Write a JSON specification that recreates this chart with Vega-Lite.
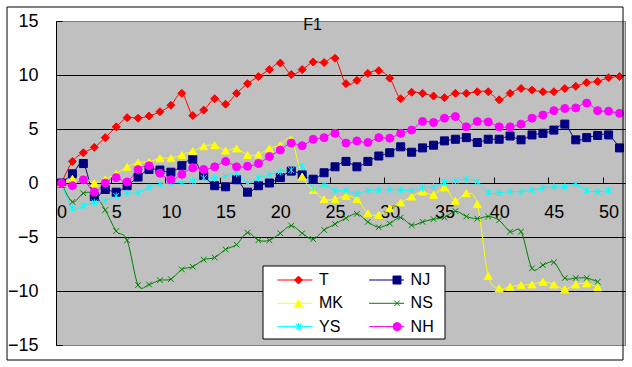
{
  "$schema": "https://vega.github.io/schema/vega-lite/v6.json",
  "width": 569,
  "height": 324,
  "autosize": "none",
  "padding": {"left": 56, "top": 21, "right": 7, "bottom": 22},
  "background": "white",
  "config": {
    "view": {"fill": "#C0C0C0", "stroke": "#808080", "strokeWidth": 1},
    "font": "Liberation Sans"
  },
  "title": {"text": "F1", "orient": "top", "anchor": "middle", "dx": -28, "dy": 25, "offset": -14, "baseline": "alphabetic", "fontSize": 16, "fontWeight": "normal", "font": "Liberation Sans", "color": "black"},
  "data": {
    "values": [
      {"x": 0, "T": 0, "NJ": 0, "MK": 0, "NS": 0, "YS": 0, "NH": 0},
      {"x": 1, "T": 2.0, "NJ": 0.85, "MK": 0.4, "NS": -1.75, "YS": -2.35, "NH": -0.25},
      {"x": 2, "T": 2.8, "NJ": 1.8, "MK": 0.5, "NS": -0.95, "YS": -2.1, "NH": 0.3},
      {"x": 3, "T": 3.3, "NJ": -1.25, "MK": 0, "NS": -1.05, "YS": -1.8, "NH": -0.85},
      {"x": 4, "T": 4.2, "NJ": -0.6, "MK": 0.35, "NS": -2.5, "YS": -1.65, "NH": 0},
      {"x": 5, "T": 5.2, "NJ": -0.85, "MK": 0.85, "NS": -4.45, "YS": -1.2, "NH": 0.5},
      {"x": 6, "T": 6.05, "NJ": -0.25, "MK": 1.5, "NS": -5.3, "YS": -0.95, "NH": 0.1},
      {"x": 7, "T": 6.0, "NJ": 0.55, "MK": 1.9, "NS": -9.45, "YS": -0.9, "NH": 1.25},
      {"x": 8, "T": 6.2, "NJ": 1.25, "MK": 1.95, "NS": -9.4, "YS": -0.4, "NH": 1.6},
      {"x": 9, "T": 6.6, "NJ": 1.2, "MK": 2.3, "NS": -9.0, "YS": -0.1, "NH": 0.9},
      {"x": 10, "T": 7.2, "NJ": 1.0, "MK": 2.3, "NS": -8.9, "YS": 0, "NH": 0.3},
      {"x": 11, "T": 8.3, "NJ": 1.6, "MK": 2.6, "NS": -8.0, "YS": 0.05, "NH": 0.8},
      {"x": 12, "T": 6.25, "NJ": 2.2, "MK": 2.95, "NS": -7.75, "YS": 0.2, "NH": 1.4},
      {"x": 13, "T": 6.75, "NJ": 0.7, "MK": 3.4, "NS": -7.1, "YS": 0.45, "NH": 1.25},
      {"x": 14, "T": 7.8, "NJ": -0.25, "MK": 3.5, "NS": -6.9, "YS": 0.45, "NH": 1.5},
      {"x": 15, "T": 7.3, "NJ": -0.35, "MK": 3.0, "NS": -6.15, "YS": 0.6, "NH": 2.0},
      {"x": 16, "T": 8.3, "NJ": 0.3, "MK": 3.2, "NS": -5.7, "YS": 0.9, "NH": 1.5},
      {"x": 17, "T": 9.2, "NJ": -0.85, "MK": 2.6, "NS": -4.6, "YS": 0.05, "NH": 1.55},
      {"x": 18, "T": 9.85, "NJ": -0.25, "MK": 2.65, "NS": -5.3, "YS": 0.45, "NH": 1.8},
      {"x": 19, "T": 10.5, "NJ": 0, "MK": 3.2, "NS": -5.3, "YS": 0.75, "NH": 2.45},
      {"x": 20, "T": 11.1, "NJ": 0.5, "MK": 3.5, "NS": -4.65, "YS": 1.05, "NH": 3.05},
      {"x": 21, "T": 10.05, "NJ": 1.1, "MK": 4.05, "NS": -3.95, "YS": 1.2, "NH": 3.7},
      {"x": 22, "T": 10.5, "NJ": 0.75, "MK": 0.6, "NS": -4.65, "YS": 1.55, "NH": 3.45},
      {"x": 23, "T": 11.2, "NJ": 0.35, "MK": -0.65, "NS": -5.2, "YS": -0.5, "NH": 4.05},
      {"x": 24, "T": 11.15, "NJ": 0.95, "MK": -1.5, "NS": -4.35, "YS": -0.15, "NH": 4.2},
      {"x": 25, "T": 11.55, "NJ": 1.5, "MK": -1.5, "NS": -3.8, "YS": -0.7, "NH": 4.6},
      {"x": 26, "T": 9.2, "NJ": 2.0, "MK": -1.2, "NS": -3.25, "YS": -0.7, "NH": 3.7},
      {"x": 27, "T": 9.5, "NJ": 1.5, "MK": -1.5, "NS": -2.85, "YS": -1.0, "NH": 3.9},
      {"x": 28, "T": 10.15, "NJ": 2.0, "MK": -2.8, "NS": -3.6, "YS": -0.7, "NH": 3.75},
      {"x": 29, "T": 10.4, "NJ": 2.5, "MK": -2.95, "NS": -4.1, "YS": -0.65, "NH": 4.2},
      {"x": 30, "T": 9.7, "NJ": 2.8, "MK": -2.35, "NS": -3.75, "YS": -0.6, "NH": 4.15},
      {"x": 31, "T": 7.8, "NJ": 3.35, "MK": -1.8, "NS": -3.2, "YS": -0.65, "NH": 4.6},
      {"x": 32, "T": 8.4, "NJ": 2.85, "MK": -1.25, "NS": -3.9, "YS": -0.7, "NH": 4.9},
      {"x": 33, "T": 8.3, "NJ": 3.25, "MK": -0.8, "NS": -3.6, "YS": -0.45, "NH": 5.7},
      {"x": 34, "T": 8.05, "NJ": 3.5, "MK": -1.1, "NS": -3.35, "YS": -0.35, "NH": 5.6},
      {"x": 35, "T": 7.9, "NJ": 3.9, "MK": -0.4, "NS": -3.2, "YS": 0.05, "NH": 6.0},
      {"x": 36, "T": 8.3, "NJ": 4.05, "MK": -1.65, "NS": -2.6, "YS": 0.2, "NH": 6.15},
      {"x": 37, "T": 8.3, "NJ": 4.2, "MK": -0.95, "NS": -3.1, "YS": 0.35, "NH": 5.2},
      {"x": 38, "T": 8.45, "NJ": 3.75, "MK": -1.95, "NS": -3.3, "YS": 0.1, "NH": 5.7},
      {"x": 39, "T": 8.45, "NJ": 4.05, "MK": -8.6, "NS": -3.1, "YS": -0.9, "NH": 5.65},
      {"x": 40, "T": 7.7, "NJ": 4.05, "MK": -9.75, "NS": -3.45, "YS": -0.9, "NH": 5.2},
      {"x": 41, "T": 8.3, "NJ": 4.35, "MK": -9.6, "NS": -4.5, "YS": -0.8, "NH": 5.2},
      {"x": 42, "T": 8.75, "NJ": 4.0, "MK": -9.45, "NS": -4.5, "YS": -0.8, "NH": 5.45},
      {"x": 43, "T": 8.6, "NJ": 4.45, "MK": -9.4, "NS": -7.9, "YS": -0.65, "NH": 6.0},
      {"x": 44, "T": 8.45, "NJ": 4.6, "MK": -9.15, "NS": -7.6, "YS": -0.45, "NH": 6.3},
      {"x": 45, "T": 8.45, "NJ": 4.9, "MK": -9.4, "NS": -7.35, "YS": -0.35, "NH": 6.7},
      {"x": 46, "T": 8.75, "NJ": 5.45, "MK": -9.85, "NS": -8.8, "YS": -0.35, "NH": 6.9},
      {"x": 47, "T": 8.95, "NJ": 4.0, "MK": -9.4, "NS": -8.8, "YS": -0.1, "NH": 6.95},
      {"x": 48, "T": 9.3, "NJ": 4.2, "MK": -9.3, "NS": -8.8, "YS": -0.7, "NH": 7.4},
      {"x": 49, "T": 9.4, "NJ": 4.4, "MK": -9.65, "NS": -9.15, "YS": -0.8, "NH": 6.7},
      {"x": 50, "T": 9.75, "NJ": 4.45, "MK": null, "NS": null, "YS": -0.7, "NH": 6.65},
      {"x": 51, "T": 9.85, "NJ": 3.25, "MK": null, "NS": null, "YS": null, "NH": 6.45}
    ]
  },
  "transform": [{"fold": ["T", "NJ", "MK", "NS", "YS", "NH"], "as": ["series", "value"]}],
  "encoding": {
    "x": {
      "field": "x", "type": "quantitative",
      "scale": {"domain": [-0.5, 51.5], "nice": false, "zero": false},
      "axis": {
        "values": [0, 5, 10, 15, 20, 25, 30, 35, 40, 45, 50],
        "title": null, "grid": false, "offset": -162,
        "domainColor": "black", "domainWidth": 1,
        "tickColor": "black", "tickSize": -6, "tickOffset": -5.47, "labelOffset": 5.47,
        "labelPadding": 26, "labelFont": "Liberation Sans", "labelFontSize": 18, "labelColor": "black",
        "labelFlush": false, "labelOverlap": false
      }
    },
    "y": {
      "field": "value", "type": "quantitative",
      "scale": {"domain": [-15, 15], "nice": false},
      "axis": {
        "values": [-15, -10, -5, 0, 5, 10, 15],
        "title": null, "grid": true, "gridWidth": 1,
        "gridColor": {"condition": {"test": "abs(datum.value) == 15", "value": "#808080"}, "value": "black"},
        "domainColor": "black", "tickColor": "black", "tickSize": -6,
        "labelPadding": 24, "labelFont": "Liberation Sans", "labelFontSize": 18, "labelColor": "black",
        "labelFlush": false, "labelOverlap": false
      }
    }
  },
  "layer": [
    {
      "mark": {"type": "point", "opacity": 0},
      "encoding": {
        "color": {
          "field": "x", "type": "quantitative",
          "scale": {"range": ["#FFFFFF", "#FFFFFF"]},
          "legend": {
            "orient": "none", "legendX": 207, "legendY": 245, "direction": "horizontal", "title": null,
            "gradientLength": 182, "gradientThickness": 73, "gradientStrokeColor": "black", "gradientStrokeWidth": 1,
            "labelExpr": "''", "labelFontSize": 1, "padding": 0
          }
        }
      }
    },
    {
      "mark": {"type": "point", "opacity": 0},
      "encoding": {
        "color": {
          "field": "x", "type": "quantitative",
          "scale": {"range": ["rgba(255,255,255,0)", "rgba(255,255,255,0)"]},
          "legend": {
            "orient": "none", "legendX": -49, "legendY": -14, "direction": "horizontal", "title": null,
            "gradientLength": 616, "gradientThickness": 353, "gradientStrokeColor": "black", "gradientStrokeWidth": 1,
            "labelExpr": "''", "labelFontSize": 1, "padding": 0
          }
        }
      }
    },
    {
      "mark": {"type": "line", "interpolate": "cardinal", "strokeWidth": 1},
      "encoding": {
        "stroke": {
          "field": "series", "type": "nominal",
          "scale": {"domain": ["T", "NJ", "MK", "NS", "YS", "NH"], "range": ["#FF0000", "#000080", "#FFFF00", "#008000", "#00FFFF", "#FF00FF"]},
          "legend": {
            "orient": "none", "legendX": 221, "legendY": 251, "columns": 2, "direction": "horizontal", "title": null,
            "symbolType": "stroke", "symbolSize": 1225, "symbolStrokeWidth": 1,
            "labelFont": "Liberation Sans", "labelFontSize": 16, "labelColor": "black", "labelOffset": 6,
            "columnPadding": 25.6, "rowPadding": 7.3, "padding": 0, "clipHeight": 16
          }
        }
      }
    },
    {
      "mark": {"type": "point", "filled": true, "opacity": 1, "size": 64, "strokeWidth": 1},
      "encoding": {
        "shape": {
          "field": "series", "type": "nominal",
          "scale": {
            "domain": ["NH", "YS", "NS", "MK", "NJ", "T"],
            "range": ["circle", "M-0.75,-0.75L0.75,0.75M-0.75,0.75L0.75,-0.75M0,-0.9L0,0.9", "M-0.7,-0.7L0.7,0.7M-0.7,0.7L0.7,-0.7", "triangle-up", "square", "diamond"]
          },
          "legend": {
            "values": ["T", "NJ", "MK", "NS", "YS", "NH"],
            "orient": "none", "legendX": 234.5, "legendY": 251, "columns": 2, "direction": "horizontal", "title": null,
            "symbolSize": 64, "symbolStrokeWidth": 1, "symbolOpacity": 1,
            "symbolFillColor": {"expr": "scale('fill', datum.value)"},
            "symbolStrokeColor": {"expr": "scale('stroke', datum.value)"},
            "labelExpr": "''", "labelFontSize": 16, "labelOffset": 0,
            "columnPadding": 82.5, "rowPadding": 7.3, "padding": 0, "clipHeight": 16
          }
        },
        "fill": {
          "field": "series", "type": "nominal",
          "scale": {"domain": ["T", "NJ", "MK", "NS", "YS", "NH"], "range": ["#FF0000", "#000080", "#FFFF00", "#008000", "#00FFFF", "#FF00FF"]},
          "legend": null
        },
        "stroke": {"field": "series", "type": "nominal", "legend": null}
      }
    }
  ],
  "resolve": {
    "scale": {"color": "independent"},
    "legend": {"color": "independent", "stroke": "independent", "shape": "independent"}
  }
}
